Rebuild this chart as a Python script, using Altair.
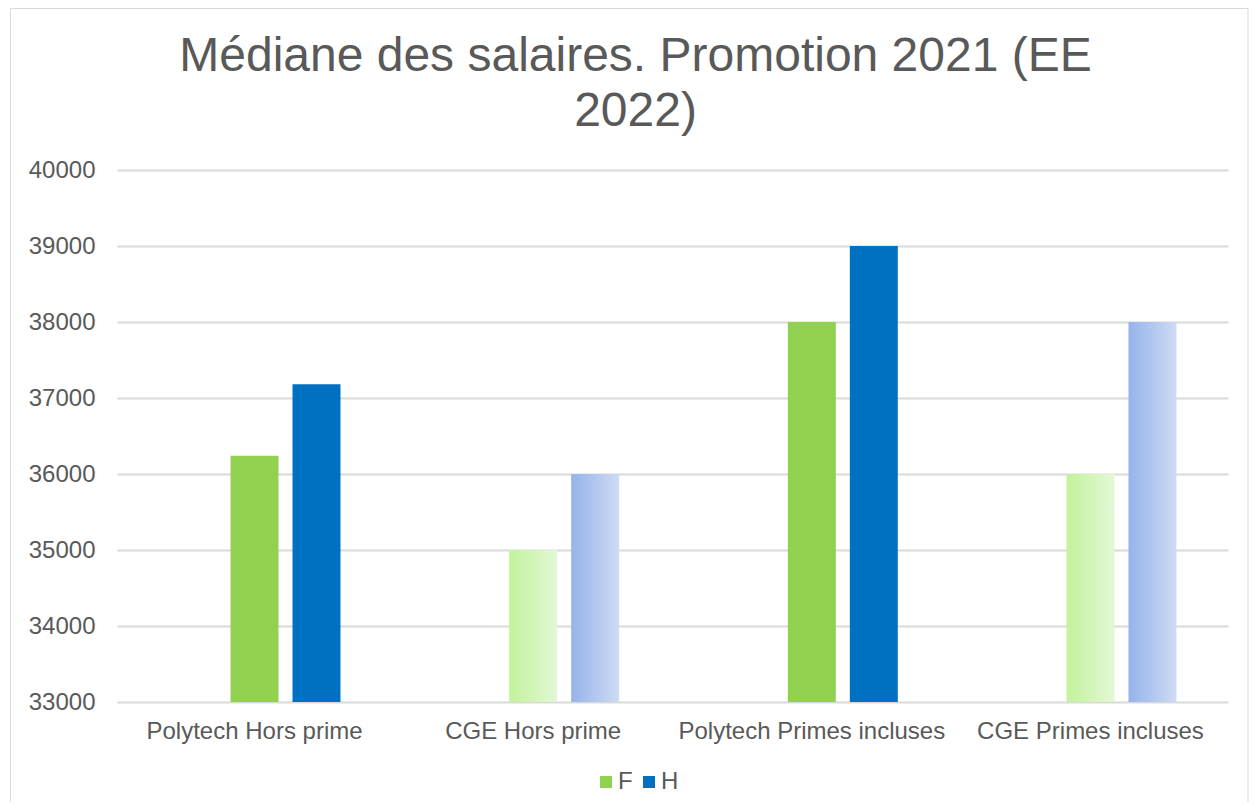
import altair as alt
import pandas as pd

categories = ["Polytech Hors prime", "CGE Hors prime", "Polytech Primes incluses", "CGE Primes incluses"]
series = ["F", "H"]
f_values = [36240, 35000, 38000, 36000]
h_values = [37180, 36000, 39000, 38000]
gradient_categories = ["CGE Hors prime", "CGE Primes incluses"]
y_ticks = [33000, 34000, 35000, 36000, 37000, 38000, 39000, 40000]
title_lines = ["Médiane des salaires. Promotion 2021 (EE", "2022)"]

rows = []
for c, f, h in zip(categories, f_values, h_values):
    kind = "gradient" if c in gradient_categories else "solid"
    rows.append({"cat": c, "series": "F", "value": f, "fill": kind})
    rows.append({"cat": c, "series": "H", "value": h, "fill": kind})
df = pd.DataFrame(rows)

font = "Liberation Sans"
grey = "#595959"
W, H = 1111, 532

x = alt.X("cat:N", sort=categories,
          scale=alt.Scale(paddingInner=0.383, paddingOuter=0.185),
          axis=alt.Axis(title=None, labelAngle=0, labelFontSize=24, labelFont=font,
                        labelColor=grey, ticks=False, domain=False, labelPadding=17,
                        labelLimit=400))
xo = alt.XOffset("series:N", scale=alt.Scale(domain=["_", "F", "H"], paddingInner=0.226, paddingOuter=0))
y = alt.Y("value:Q",
          scale=alt.Scale(domain=[33000, 40000], zero=False, nice=False),
          axis=alt.Axis(values=y_ticks, title=None, labelFontSize=24, labelFont=font,
                        labelColor=grey, ticks=False, domain=False, labelPadding=22,
                        gridColor="#d9d9d9", gridWidth=2, format="d"))
y2 = alt.datum(33000)

base = alt.Chart(df)

solid = base.transform_filter(alt.datum.fill == "solid").mark_bar().encode(
    x=x, xOffset=xo, y=y, y2=y2,
    color=alt.Color("series:N",
                    scale=alt.Scale(domain=series, range=["#92D050", "#0070C0"]),
                    legend=alt.Legend(title=None, orient="none", legendX=477, legendY=600,
                                      direction="horizontal", symbolType="square",
                                      symbolSize=144, symbolStrokeWidth=0,
                                      labelFontSize=24, labelFont=font, labelColor=grey,
                                      labelOffset=0, columnPadding=4))
)

green_grad = alt.LinearGradient(gradient="linear", x1=0, y1=0, x2=1, y2=0,
                                stops=[alt.GradientStop(offset=0, color="#c3f29b"),
                                       alt.GradientStop(offset=1, color="#e2f8d6")])
blue_grad = alt.LinearGradient(gradient="linear", x1=0, y1=0, x2=1, y2=0,
                               stops=[alt.GradientStop(offset=0, color="#95b3eb"),
                                      alt.GradientStop(offset=1, color="#cedbf4")])

grad_f = base.transform_filter((alt.datum.fill == "gradient") & (alt.datum.series == "F")).mark_bar(
    color=green_grad).encode(x=x, xOffset=xo, y=y, y2=y2)
grad_h = base.transform_filter((alt.datum.fill == "gradient") & (alt.datum.series == "H")).mark_bar(
    color=blue_grad).encode(x=x, xOffset=xo, y=y, y2=y2)

frame = alt.Chart(pd.DataFrame({"a": [0]})).mark_rect(
    fill="transparent", stroke="#d9d9d9", strokeWidth=1).encode(
    x=alt.value(-106.5), x2=alt.value(1131), y=alt.value(-161.5), y2=alt.value(660))

chart = alt.layer(frame, solid, grad_f, grad_h).properties(
    width=W, height=H,
    title=alt.TitleParams(text=title_lines, fontSize=48, font=font, fontWeight="normal",
                          color=grey, anchor="middle", dx=-37, dy=176, offset=0,
                          baseline="bottom", lineHeight=55),
    autosize=alt.AutoSizeParams(type="none"),
    padding={"left": 109, "top": 162, "right": 21, "bottom": 100},
    background="white",
).configure_view(stroke=None)

chart.save("out.html", embed_options={"renderer": "svg", "actions": False})
